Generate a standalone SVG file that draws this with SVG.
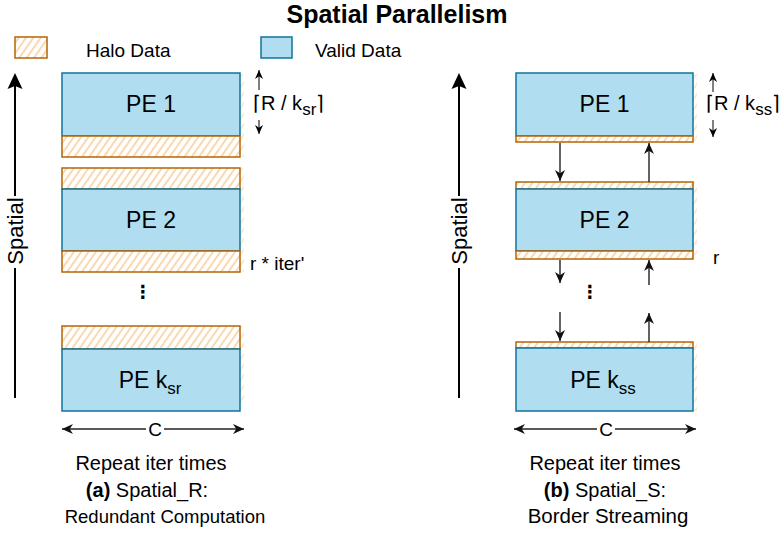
<svg xmlns="http://www.w3.org/2000/svg" width="779" height="537" viewBox="0 0 779 537">
<style>
text{font-family:"Liberation Sans",Arial,sans-serif;fill:#000}
.valid{fill:#B1DDF0;stroke:#10739E;stroke-width:1.5}
.halo{fill:url(#hatch);stroke:#B46504;stroke-width:1.5}
.slop{fill:url(#hatch);stroke:none;opacity:0.6}
.pe{font-size:23px;text-anchor:middle}
.lbl{font-size:19px}
.cap{font-size:20px;text-anchor:middle}
.ax{stroke:#000;stroke-width:2;fill:none}
.conn{stroke:#222;stroke-width:1.4;fill:none}
.thin{stroke:#000;stroke-width:1;fill:none}
</style>
<defs>
<pattern id="hatch" width="6" height="6" patternUnits="userSpaceOnUse" patternTransform="rotate(35)">
<rect width="6" height="6" fill="#fff"/>
<line x1="1" y1="0" x2="1" y2="6" stroke="#F9CB96" stroke-width="1.5"/>
</pattern>
<marker id="ah" viewBox="0 0 10 10" refX="10" refY="5" markerUnits="userSpaceOnUse" markerWidth="11" markerHeight="11" orient="auto-start-reverse">
<path d="M0,0.5 L10,5 L0,9.5 L3,5 z" fill="#111"/>
</marker>
<marker id="ahs" viewBox="0 0 10 10" refX="10" refY="5" markerUnits="userSpaceOnUse" markerWidth="9" markerHeight="9" orient="auto-start-reverse">
<path d="M0,0.5 L10,5 L0,9.5 L3,5 z" fill="#000"/>
</marker>
</defs>

<text x="397" y="23" style="font-size:25px;font-weight:bold" text-anchor="middle">Spatial Parallelism</text>

<g id="legend-halo">
<rect x="15" y="37" width="32" height="21" class="halo"/>
<text x="86" y="57" style="font-size:19px">Halo Data</text>
</g>
<g id="legend-valid">
<rect x="261" y="37" width="31" height="21" class="valid"/>
<text x="315" y="57" style="font-size:19px">Valid Data</text>
</g>

<!-- Left panel -->
<g id="axis-left">
<line x1="15" y1="398" x2="15" y2="268" class="ax"/>
<line x1="15" y1="196" x2="15" y2="85" class="ax"/>
<polygon points="15,73 22.5,89 15,86 7.5,89" fill="#000"/>
<text transform="translate(23,231) rotate(-90)" style="font-size:22px" text-anchor="middle">Spatial</text>
</g>

<g id="pe1-left">
<rect x="240" y="74" width="4" height="83" class="slop"/>
<rect x="62" y="73" width="178" height="63" class="valid"/>
<rect x="62" y="136" width="178" height="21" class="halo"/>
<text x="151" y="112" class="pe">PE 1</text>
</g>
<g id="pe2-left">
<rect x="240" y="168" width="4" height="104" class="slop"/>
<rect x="62" y="168" width="178" height="21" class="halo"/>
<rect x="62" y="189" width="178" height="62" class="valid"/>
<rect x="62" y="251" width="178" height="21" class="halo"/>
<text x="151" y="228" class="pe">PE 2</text>
</g>
<g id="pek-left">
<rect x="240" y="326" width="4" height="78" class="slop"/>
<rect x="62" y="326" width="178" height="23" class="halo"/>
<rect x="62" y="349" width="178" height="62" class="valid"/>
<text x="150" y="388" class="pe">PE k<tspan dy="6" style="font-size:17px">sr</tspan></text>
</g>
<text x="143" y="298" style="font-family:'DejaVu Sans',sans-serif;font-size:18px;font-weight:bold" text-anchor="middle">⋮</text>

<g id="dim-left">
<line x1="259" y1="90" x2="259" y2="70" class="thin" marker-end="url(#ahs)"/>
<line x1="259" y1="120" x2="259" y2="134" class="thin" marker-end="url(#ahs)"/>
<text x="253" y="110" style="font-size:20px">⌈R / k<tspan dy="5" style="font-size:17px">sr</tspan><tspan dy="-5">⌉</tspan></text>
<text x="250" y="270" class="lbl">r * iter'</text>
</g>

<!-- Right panel -->
<g id="axis-right">
<line x1="459" y1="398" x2="459" y2="268" class="ax"/>
<line x1="459" y1="196" x2="459" y2="85" class="ax"/>
<polygon points="459,73 466.5,89 459,86 451.5,89" fill="#000"/>
<text transform="translate(467,231) rotate(-90)" style="font-size:22px" text-anchor="middle">Spatial</text>
</g>

<g id="pe1-right">
<rect x="693" y="74" width="4" height="68" class="slop"/>
<rect x="516" y="73" width="177" height="63" class="valid"/>
<rect x="516" y="136" width="177" height="6" class="halo"/>
<text x="604.5" y="112" class="pe">PE 1</text>
</g>
<g id="pe2-right">
<rect x="693" y="182" width="4" height="77" class="slop"/>
<rect x="516" y="182" width="177" height="7" class="halo"/>
<rect x="516" y="189" width="177" height="62" class="valid"/>
<rect x="516" y="251" width="177" height="8" class="halo"/>
<text x="604.5" y="228" class="pe">PE 2</text>
</g>
<g id="pek-right">
<rect x="693" y="342" width="4" height="69" class="slop"/>
<rect x="516" y="342" width="177" height="6" class="halo"/>
<rect x="516" y="348" width="177" height="63" class="valid"/>
<text x="603" y="388" class="pe">PE k<tspan dy="6" style="font-size:17px">ss</tspan></text>
</g>
<text x="590" y="298" style="font-family:'DejaVu Sans',sans-serif;font-size:18px;font-weight:bold" text-anchor="middle">⋮</text>

<g id="dim-right">
<line x1="713" y1="92" x2="713" y2="73" class="thin" marker-end="url(#ahs)"/>
<line x1="713" y1="120" x2="713" y2="137" class="thin" marker-end="url(#ahs)"/>
<text x="706" y="110" style="font-size:20px">⌈R / k<tspan dy="5" style="font-size:17px">ss</tspan><tspan dy="-5">⌉</tspan></text>
<text x="713" y="264" class="lbl">r</text>
</g>

<g id="connectors">
<line x1="560" y1="143" x2="560" y2="181" class="conn" marker-end="url(#ah)"/>
<line x1="649" y1="182" x2="649" y2="143" class="conn" marker-end="url(#ah)"/>
<line x1="560" y1="260" x2="560" y2="283" class="conn" marker-end="url(#ah)"/>
<line x1="649" y1="285" x2="649" y2="260" class="conn" marker-end="url(#ah)"/>
<line x1="560" y1="312" x2="560" y2="341" class="conn" marker-end="url(#ah)"/>
<line x1="649" y1="342" x2="649" y2="313" class="conn" marker-end="url(#ah)"/>
<line x1="62" y1="429" x2="244" y2="429" class="conn" marker-start="url(#ah)" marker-end="url(#ah)"/>
<line x1="514" y1="429" x2="696" y2="429" class="conn" marker-start="url(#ah)" marker-end="url(#ah)"/>
<rect x="146" y="419" width="18" height="20" fill="#fff"/>
<text x="155" y="436" class="lbl" text-anchor="middle">C</text>
<rect x="597" y="419" width="18" height="20" fill="#fff"/>
<text x="606" y="436" class="lbl" text-anchor="middle">C</text>
</g>

<g id="captions">
<text x="151" y="470" class="cap">Repeat iter times</text>
<text x="147" y="497" class="cap"><tspan font-weight="bold">(a)</tspan> Spatial_R:</text>
<text x="165" y="523" class="cap" style="font-size:18.5px">Redundant Computation</text>
<text x="605" y="470" class="cap">Repeat iter times</text>
<text x="605" y="497" class="cap"><tspan font-weight="bold">(b)</tspan> Spatial_S:</text>
<text x="608" y="523" class="cap" style="font-size:20.5px">Border Streaming</text>
</g>
</svg>
